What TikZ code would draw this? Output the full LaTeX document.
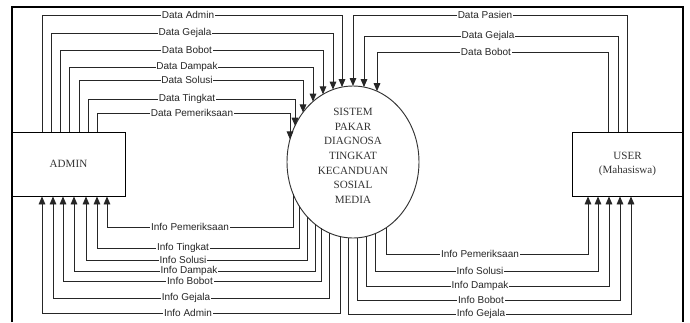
\documentclass[tikz,border=0pt]{standalone}
\usepackage{fontspec}
\setmainfont{Liberation Serif}
\newfontfamily\labfont{Liberation Sans}
\usetikzlibrary{arrows.meta,shapes.geometric}
\begin{document}
\begin{tikzpicture}[x=0.75pt,y=-0.75pt,
  flow/.style={draw=black!85,line width=0.7pt},
  arr/.style={flow,-{Triangle[length=6pt,width=5pt]}},
  lab/.style={fill=white,inner sep=0.6pt,font=\labfont\fontsize{7.5}{8}\selectfont,text=black!85},
  entity/.style={draw,line width=0.7pt,rectangle,inner sep=0pt,minimum height=48pt,
    font=\fontsize{8.3}{11}\selectfont,text=black!80,align=center},
  proc/.style={draw=black!80,line width=0.7pt,ellipse,inner sep=0pt,minimum width=99pt,minimum height=114pt},
  systext/.style={font=\fontsize{8.3}{11}\selectfont,text=black!80,align=center,inner sep=0pt},
  frameline/.style={line width=1.5pt}]
\useasboundingbox (0,0) rectangle (690,322);

% entities and process
\node[entity,minimum width=84.75pt] (admin) at (68.5,164) {ADMIN};
\node[entity,minimum width=83.25pt] (user) at (627.5,164) {USER\\(Mahasiswa)};
\node[proc] (sys) at (353,162) {};
\node[systext] (systxt) at (353,156) {SISTEM\\PAKAR\\DIAGNOSA\\TINGKAT\\KECANDUAN\\SOSIAL\\MEDIA};

% outer frame
\draw[frameline] (12,322) -- (12,7) -- (683,7) -- (683,322);

% ADMIN -> system (data)
\foreach \xl/\yy/\xr/\txt/\lx [count=\i] in {
  42/15/342/Data Admin/188,
  51/33/333/Data Gejala/185,
  60/50/323/Data Bobot/187,
  69/67/313/Data Dampak/187,
  79/80/303/Data Solusi/187,
  88/99/295/Data Tingkat/187,
  97/113/290/Data Pemeriksaan/192} {
  \pgfmathsetmacro\ey{162-76*sqrt(1-((\xr-353)/66)^2)}
  \draw[arr] (admin.north -| \xl,0) |- (\xr,\yy) -- (\xr,\ey);
  \node[lab] (ad\i) at (\lx,\yy) {\txt};
}

% system -> ADMIN (info)
\foreach \xl/\yy/\xr/\txt/\lx [count=\i] in {
  107/227/293/Info Pemeriksaan/190,
  97/248/299/Info Tingkat/183,
  86/260/307/Info Solusi/183,
  74/271/315/Info Dampak/189,
  63/281/321/Info Bobot/190,
  53/298/329/Info Gejala/186,
  42/313/340/Info Admin/188} {
  \pgfmathsetmacro\ey{162+76*sqrt(1-((\xr-353)/66)^2)}
  \draw[arr] (\xr,\ey) |- (\xl,\yy) -- (admin.south -| \xl,0);
  \node[lab] (ai\i) at (\lx,\yy) {\txt};
}

% USER -> system (data)
\foreach \xl/\yy/\xr/\txt/\lx [count=\i] in {
  353/15/627/Data Pasien/485,
  364/36/618/Data Gejala/488,
  377/52/608/Data Bobot/486} {
  \pgfmathsetmacro\ey{162-76*sqrt(1-((\xl-353)/66)^2)}
  \draw[arr] (user.north -| \xr,0) |- (\xl,\yy) -- (\xl,\ey);
  \node[lab] (ud\i) at (\lx,\yy) {\txt};
}

% system -> USER (info)
\foreach \xl/\yy/\xr/\txt/\lx [count=\i] in {
  386/254/588/Info Pemeriksaan/480,
  375/271/598/Info Solusi/480,
  366/286/609/Info Dampak/480,
  357/300/620/Info Bobot/481,
  348/314/631/Info Gejala/481} {
  \pgfmathsetmacro\ey{162+76*sqrt(1-((\xl-353)/66)^2)}
  \draw[arr] (\xl,\ey) |- (\xr,\yy) -- (user.south -| \xr,0);
  \node[lab] (ui\i) at (\lx,\yy) {\txt};
}
\end{tikzpicture}
\end{document}
